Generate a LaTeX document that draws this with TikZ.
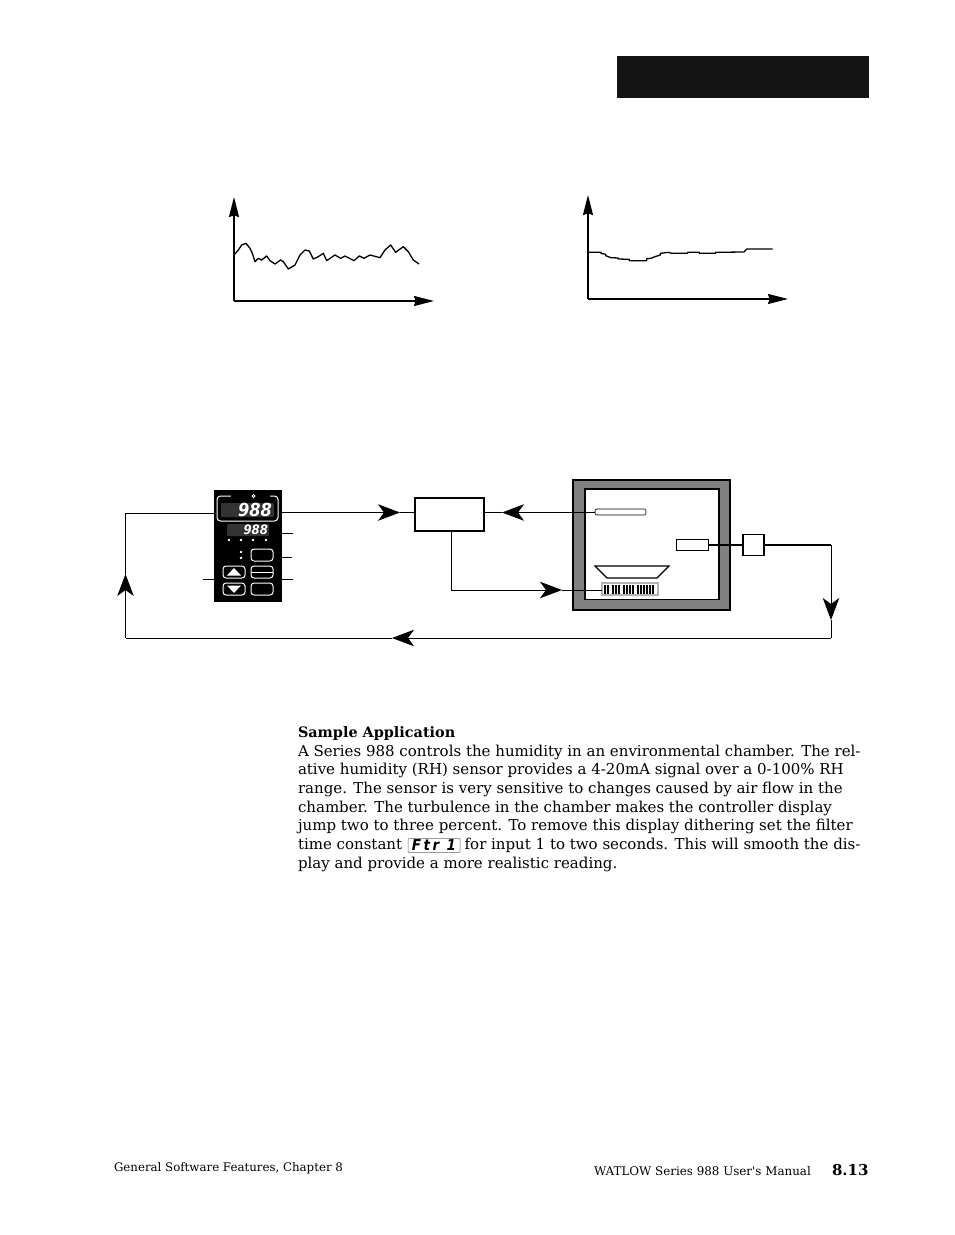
\documentclass[tikz,border=0pt]{standalone}
\usepackage{fontspec}
\setmainfont{DejaVu Serif}
\newfontfamily\segfont{DejaVu Sans}[FakeStretch=0.9]
\newfontfamily\footfont{DejaVu Serif}
\usetikzlibrary{arrows.meta,shapes.geometric}
\tikzset{
  x=1pt,y=-1pt,
  every node/.style={inner sep=0pt,outer sep=0pt},
  wire/.style={draw=black,line width=1pt},
  thickwire/.style={draw=black,line width=2pt},
  axis/.style={draw=black,line width=1.5pt,-{Stealth[length=20pt,width=10pt,inset=1.5pt]}},
  flow/.style={draw=black,line width=1pt,-{Stealth[length=22pt,width=16.5pt,inset=6pt]}},
  trace/.style={draw=black,line width=1.3pt,line join=round},
  btn/.style={draw=white,line width=1pt,rounded corners=3pt,minimum width=22pt,minimum height=12pt},
  led/.style={circle,fill=white,minimum size=2.8pt},
  seg/.style={text=white},
  pagetxt/.style={anchor=north west,align=left,font=\fontsize{15}{18.7}\selectfont},
}
\begin{document}
\begin{tikzpicture}
\useasboundingbox (0,0) rectangle (954,1235);
\fill[white] (0,0) rectangle (954,1235);

% header bar
\node[fill=black!92,minimum width=252pt,minimum height=42pt,anchor=north west] (header) at (617,56) {};

% graph 1
\coordinate (g1o) at (234,301);
\coordinate (g1y) at (234,197);
\coordinate (g1x) at (434,301);
\draw[axis] (g1o) -- (g1y);
\draw[axis] (g1o) -- (g1x);
\begin{scope}[shift={(220,190)},x=0.3333pt,y=-0.3333pt]
\draw[trace] (42,195)--(55,180)--(65,165)--(78,160)--(90,175)--(97,190)--(105,215)--(115,205)--(125,210)--(140,198)--(150,212)--(165,222)--(182,210)--(190,215)--(205,237)--(225,225)--(240,195)--(255,180)--(268,183)--(280,207)--(295,200)--(310,190)--(320,212)--(345,195)--(362,205)--(375,198)--(402,212)--(418,198)--(432,205)--(450,195)--(480,203)--(495,180)--(512,165)--(527,187)--(550,170)--(565,185)--(580,210)--(597,222);
\end{scope}

% graph 2
\coordinate (g2o) at (588,299);
\coordinate (g2y) at (588,195);
\coordinate (g2x) at (788,299);
\draw[axis] (g2o) -- (g2y);
\draw[axis] (g2o) -- (g2x);
\begin{scope}[shift={(575,190)},x=0.3333pt,y=-0.3333pt]
\draw[trace] (38,187)--(78,187)--(78,190)--(92,193)--(92,197)--(108,203)--(130,204)--(130,207)--(163,208)--(163,212)--(215,212)--(215,206)--(228,205)--(240,200)--(256,195)--(256,190)--(280,187)--(290,190)--(338,190)--(338,187)--(373,187)--(373,190)--(422,190)--(422,187)--(507,186)--(515,177)--(593,177);
\end{scope}

% chamber
\node[draw=black,line width=1.2pt,fill=black!50,minimum width=157pt,minimum height=130pt,anchor=north west] (chamber) at (573,480) {};
\node[draw=black,line width=1.2pt,fill=white,minimum width=134pt,minimum height=110.5pt,anchor=north west] (inner) at (585,489) {};
\node[draw=black,line width=0.6pt,fill=white,rounded corners=2pt,minimum width=51pt,minimum height=6pt,anchor=north west] (tube) at (595,509) {};
\draw[black!60,line width=0.5pt] (598,509) arc[start angle=90,end angle=270,radius=3pt];
\node[draw=black,line width=0.7pt,fill=white,minimum width=32pt,minimum height=11pt,anchor=north west] (probe) at (676,539.5) {};
\node[draw=black,line width=1.5pt,fill=white,minimum width=21pt,minimum height=21pt,anchor=north west] (transmitter) at (743,534.5) {};
\path[draw=black,line width=1.2pt,fill=white] (595,566)--(669,566)--(657,578)--(607,578)--cycle;
\node[draw=black!30,line width=1.2pt,fill=white,minimum width=56pt,minimum height=12pt,anchor=north west] (heater) at (602,583) {};
\foreach \xx in {604,607,612,615,618,623,626,629,632,637,640,643,646,649,652}
  \fill[black] (\xx,585) rectangle (\xx+1.6,593.5);

% controller
\node[fill=black,minimum width=67.5pt,minimum height=111.5pt,anchor=north west] (ctrl) at (214,490) {};
\node[draw=white,line width=1pt,rounded corners=3.5pt,minimum width=61pt,minimum height=25pt,anchor=north west] (dispframe) at (217,496) {};
\node[fill=black,minimum width=39pt,minimum height=4pt] (framegap) at (250.5,496) {};
\node[draw=white,circle,line width=0.8pt,minimum size=3pt] (topled) at (253.5,496) {};
\node[fill=black!80,rounded corners=1pt,minimum width=53pt,minimum height=14pt,anchor=north west] (disp1) at (221,503) {};
\node[seg,font=\segfont\bfseries\itshape\fontsize{18}{18}\selectfont,anchor=east] (val1) at (272,510) {988};
\node[fill=black!80,rounded corners=1pt,minimum width=42pt,minimum height=12pt,anchor=north west] (disp2) at (227,524) {};
\node[seg,font=\segfont\bfseries\itshape\fontsize{13}{13}\selectfont,anchor=east] (val2) at (268,530) {988};
\node[led] (d1) at (229,540) {};
\node[led] (d2) at (241,540) {};
\node[led] (d3) at (253,540) {};
\node[led] (d4) at (266,540) {};
\node[led] (d5) at (241,552) {};
\node[led] (d6) at (241,558) {};
\node[btn] (modebtn) at (262,555) {};
\node[btn] (dispbtn) at (262,572) {};
\draw[white,line width=1pt] (dispbtn.west) -- (dispbtn.east);
\node[btn] (rstbtn) at (262,589) {};
\node[btn] (upbtn) at (234,572) {};
\node[btn] (dnbtn) at (234,589) {};
\fill[white] (227,575.5)--(241,575.5)--(234,568)--cycle;
\fill[white] (227,585.5)--(241,585.5)--(234,593)--cycle;

% controller side leaders
\coordinate (l1) at (293,533.5);
\coordinate (l2) at (292,557);
\coordinate (l3) at (293,579);
\coordinate (l4) at (203,579);
\draw[wire,line width=1.6pt] (ctrl.east |- l1) -- (l1);
\draw[wire] (ctrl.east |- l2) -- (l2);
\draw[wire] (ctrl.east |- l3) -- (l3);
\draw[wire] (l4) -- (ctrl.west |- l4);

% relay box
\node[draw=black,line width=1.2pt,fill=white,minimum width=69pt,minimum height=33pt,anchor=north west] (box) at (415,498) {};

% connectors
\coordinate (c1) at (831,638);
\coordinate (c2) at (125.5,638);
\coordinate (c3) at (125.5,513);
\coordinate (c4) at (831,545);
\coordinate (ta) at (400,512.5);
\coordinate (tb) at (502,512.5);
\coordinate (tc) at (562,590);
\coordinate (td) at (831,620);
\coordinate (te) at (392,638);
\coordinate (tf) at (125.5,574);
\coordinate (c5) at (451,590);
\coordinate (c6) at (451,531);
\draw[thickwire] (probe.east) -- (transmitter.west);
\draw[thickwire] (transmitter.east) -- (c4);
\draw[flow] (c4) -- (td);
\draw[wire] (td) -- (c1);
\draw[flow] (c1) -- (te);
\draw[wire] (te) -- (c2);
\draw[flow] (c2) -- (tf);
\draw[wire] (tf) -- (c3) -- (ctrl.west |- c3);
\draw[flow] (ctrl.east |- ta) -- (ta);
\draw[wire] (ta) -- (box.west |- ta);
\draw[flow] (tube.west |- tb) -- (tb);
\draw[wire] (tb) -- (box.east |- tb);
\draw[wire] (c6) -- (c5);
\draw[flow] (c5) -- (tc);
\draw[wire] (tc) -- (heater.west |- tc);

% body text
\node[pagetxt] (body) at (298,726.5) {{\bfseries\fontsize{14.4}{18.7}\selectfont Sample Application}\\
A Series 988 controls the humidity in an environmental chamber. The rel-\\
ative humidity (RH) sensor provides a 4-20mA signal over a 0-100\% RH\\
range. The sensor is very sensitive to changes caused by air flow in the\\
chamber. The turbulence in the chamber makes the controller display\\
jump two to three percent. To remove this display dithering set the filter\\
time constant \hspace{53pt} for input 1 to two seconds. This will smooth the dis-\\
play and provide a more realistic reading.};
\node[draw=black!60,line width=0.5pt,rounded corners=1pt,minimum width=52pt,minimum height=14pt,anchor=west,font=\segfont\bfseries\itshape\fontsize{15}{15}\selectfont] (ftr) at (408,845.5) {F\,t\,r\,\,\,1};

% footer
\node[anchor=base west,font=\footfont\fontsize{11.8}{13}\selectfont] (footl) at (114,1171) {General Software Features, Chapter 8};
\node[anchor=base west,font=\footfont\fontsize{11.9}{13}\selectfont] (footr) at (594,1175) {WATLOW Series 988 User's Manual};
\node[anchor=base west,font=\footfont\bfseries\fontsize{15}{15}\selectfont] (pg) at (832,1175) {8.13};
\end{tikzpicture}
\end{document}
